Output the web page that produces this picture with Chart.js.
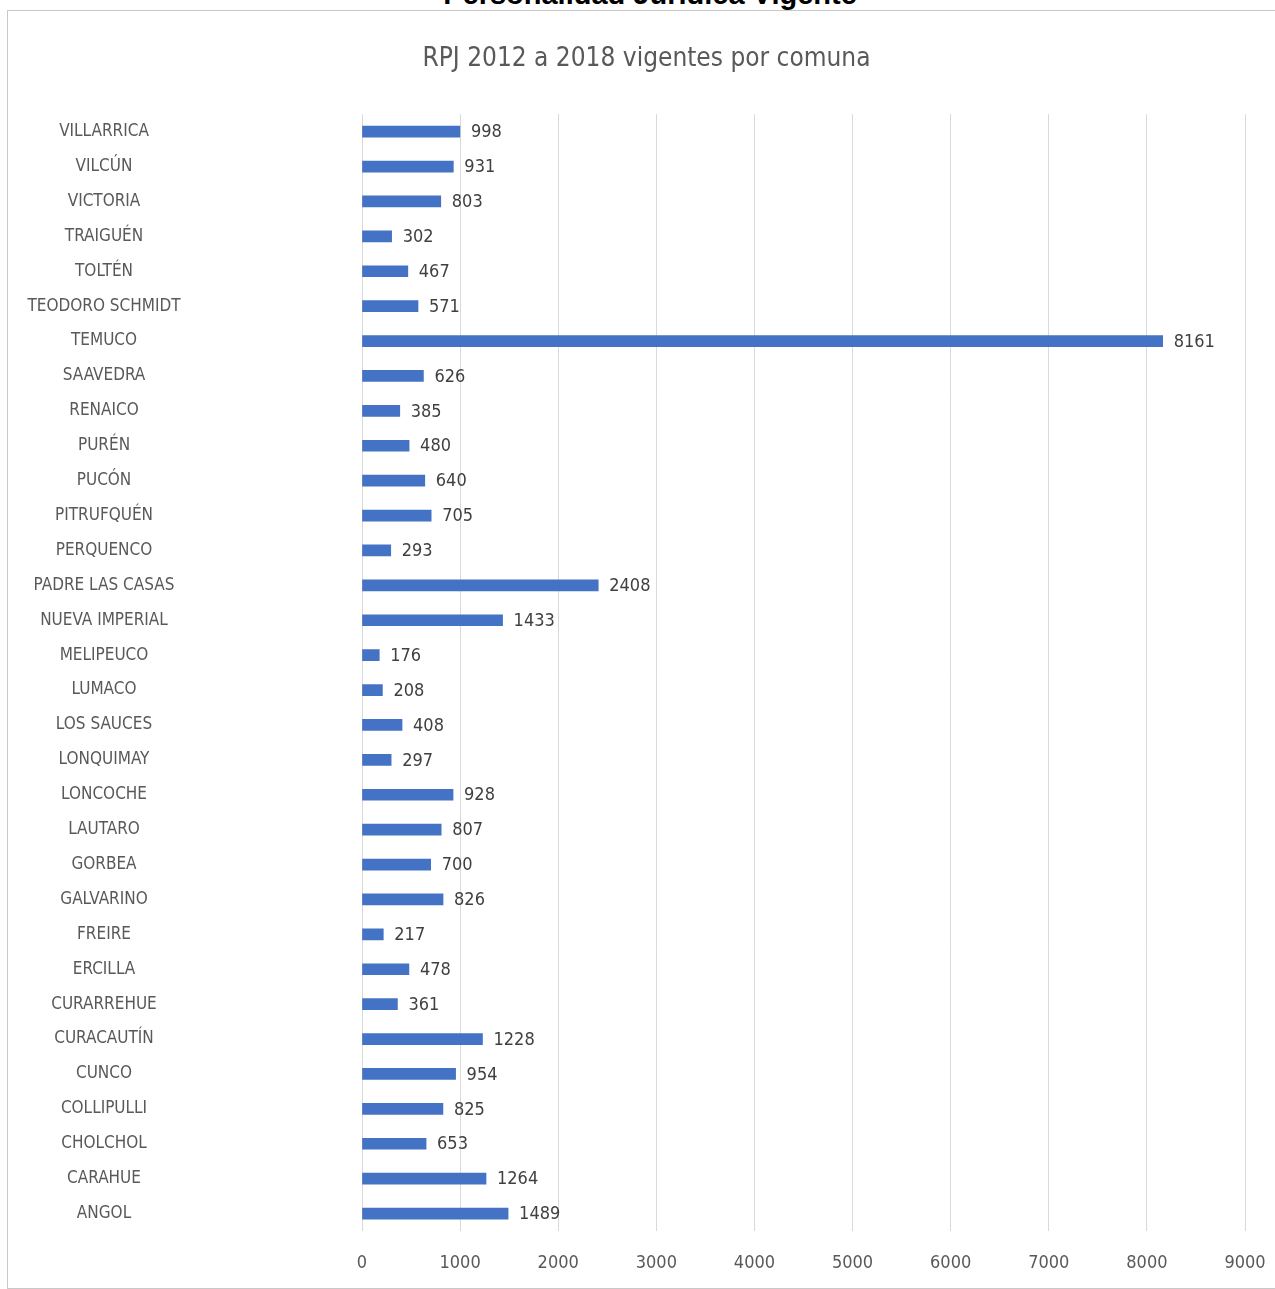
<!DOCTYPE html>
<html>
<head>
<meta charset="utf-8">
<script src="https://cdn.jsdelivr.net/npm/chart.js@4"></script>
<style>
  body { margin: 0; background: #fff; overflow: hidden; }
  #titulo {
    position: absolute; left: 0; width: 1300px; top: -22px;
    text-align: center; font: bold 29px "Liberation Sans", Arial, sans-serif; color: #000;
  }
  #caja {
    position: absolute; left: 7px; top: 10px; width: 1285px; height: 1277px;
    border: 1px solid #c8c8c8; background: #fff; overflow: hidden;
  }
  canvas { display: block; }
</style>
</head>
<body>
<div id="titulo">Personalidad Jurídica Vigente</div>
<div id="caja"><canvas id="grafico" width="1277" height="1277"></canvas></div>
<script>
// comunas, de arriba hacia abajo
const comunas = ['VILLARRICA', 'VILCÚN', 'VICTORIA', 'TRAIGUÉN', 'TOLTÉN', 'TEODORO SCHMIDT',
  'TEMUCO', 'SAAVEDRA', 'RENAICO', 'PURÉN', 'PUCÓN', 'PITRUFQUÉN', 'PERQUENCO',
  'PADRE LAS CASAS', 'NUEVA IMPERIAL', 'MELIPEUCO', 'LUMACO', 'LOS SAUCES', 'LONQUIMAY',
  'LONCOCHE', 'LAUTARO', 'GORBEA', 'GALVARINO', 'FREIRE', 'ERCILLA', 'CURARREHUE',
  'CURACAUTÍN', 'CUNCO', 'COLLIPULLI', 'CHOLCHOL', 'CARAHUE', 'ANGOL'];
const vigentes = [998, 931, 803, 302, 467, 571, 8161, 626, 385, 480, 640, 705, 293,
  2408, 1433, 176, 208, 408, 297, 928, 807, 700, 826, 217, 478, 361,
  1228, 954, 825, 653, 1264, 1489];
const ejeMin = 0;
const ejeMax = 9000;
const ejePaso = 1000;

const fuente = '"DejaVu Sans Condensed", "Liberation Sans Narrow", sans-serif';
const tamComuna = 17;

// ancho de la etiqueta mas larga, para centrar las comunas
const medir = document.createElement('canvas').getContext('2d');
medir.font = tamComuna + 'px ' + fuente;
const masAncha = Math.max(...comunas.map(c => medir.measureText(c).width));

// etiquetas con el valor al final de cada barra
const etiquetasValor = {
  id: 'etiquetasValor',
  afterDatasetsDraw(chart) {
    const ctx = chart.ctx;
    const meta = chart.getDatasetMeta(0);
    ctx.save();
    ctx.font = '18px ' + fuente;
    ctx.fillStyle = '#404040';
    ctx.textAlign = 'left';
    ctx.textBaseline = 'middle';
    meta.data.forEach((barra, i) => {
      ctx.fillText(String(vigentes[i]), barra.x + 11, barra.y + 1);
    });
    ctx.restore();
  }
};

new Chart(document.getElementById('grafico'), {
  type: 'bar',
  data: {
    labels: comunas,
    datasets: [{
      data: vigentes,
      backgroundColor: '#4472c4',
      barThickness: 11
    }]
  },
  options: {
    indexAxis: 'y',
    responsive: false,
    animation: false,
    layout: { padding: { left: 0, right: 0, top: 0, bottom: 0 } },
    plugins: {
      legend: { display: false },
      tooltip: { enabled: false },
      title: {
        display: true,
        text: 'RPJ 2012 a 2018 vigentes por comuna',
        color: '#595959',
        font: { family: fuente, size: 26, weight: 'normal' },
        padding: { top: 33, bottom: 39 }
      }
    },
    scales: {
      x: {
        min: ejeMin,
        max: ejeMax,
        ticks: {
          stepSize: ejePaso,
          color: '#595959',
          padding: 22,
          font: { family: fuente, size: 18 },
          callback: v => String(v)
        },
        grid: { color: '#d9d9d9', drawTicks: false },
        border: { display: false },
        afterFit(scale) {
          scale.height = 57;
          scale.paddingLeft = 0;
          scale.paddingRight = 40;
        }
      },
      y: {
        ticks: {
          autoSkip: false,
          crossAlign: 'center',
          color: '#595959',
          padding: 354 - 96 - masAncha / 2,
          font: { family: fuente, size: tamComuna }
        },
        grid: { display: false, drawTicks: false },
        border: { display: false },
        afterFit(scale) {
          scale.width = 354;
          // el padding de las etiquetas no debe empujar el area vertical
          scale.paddingTop = 0;
          scale.paddingBottom = 0;
        }
      }
    }
  },
  plugins: [etiquetasValor]
});
</script>
</body>
</html>
